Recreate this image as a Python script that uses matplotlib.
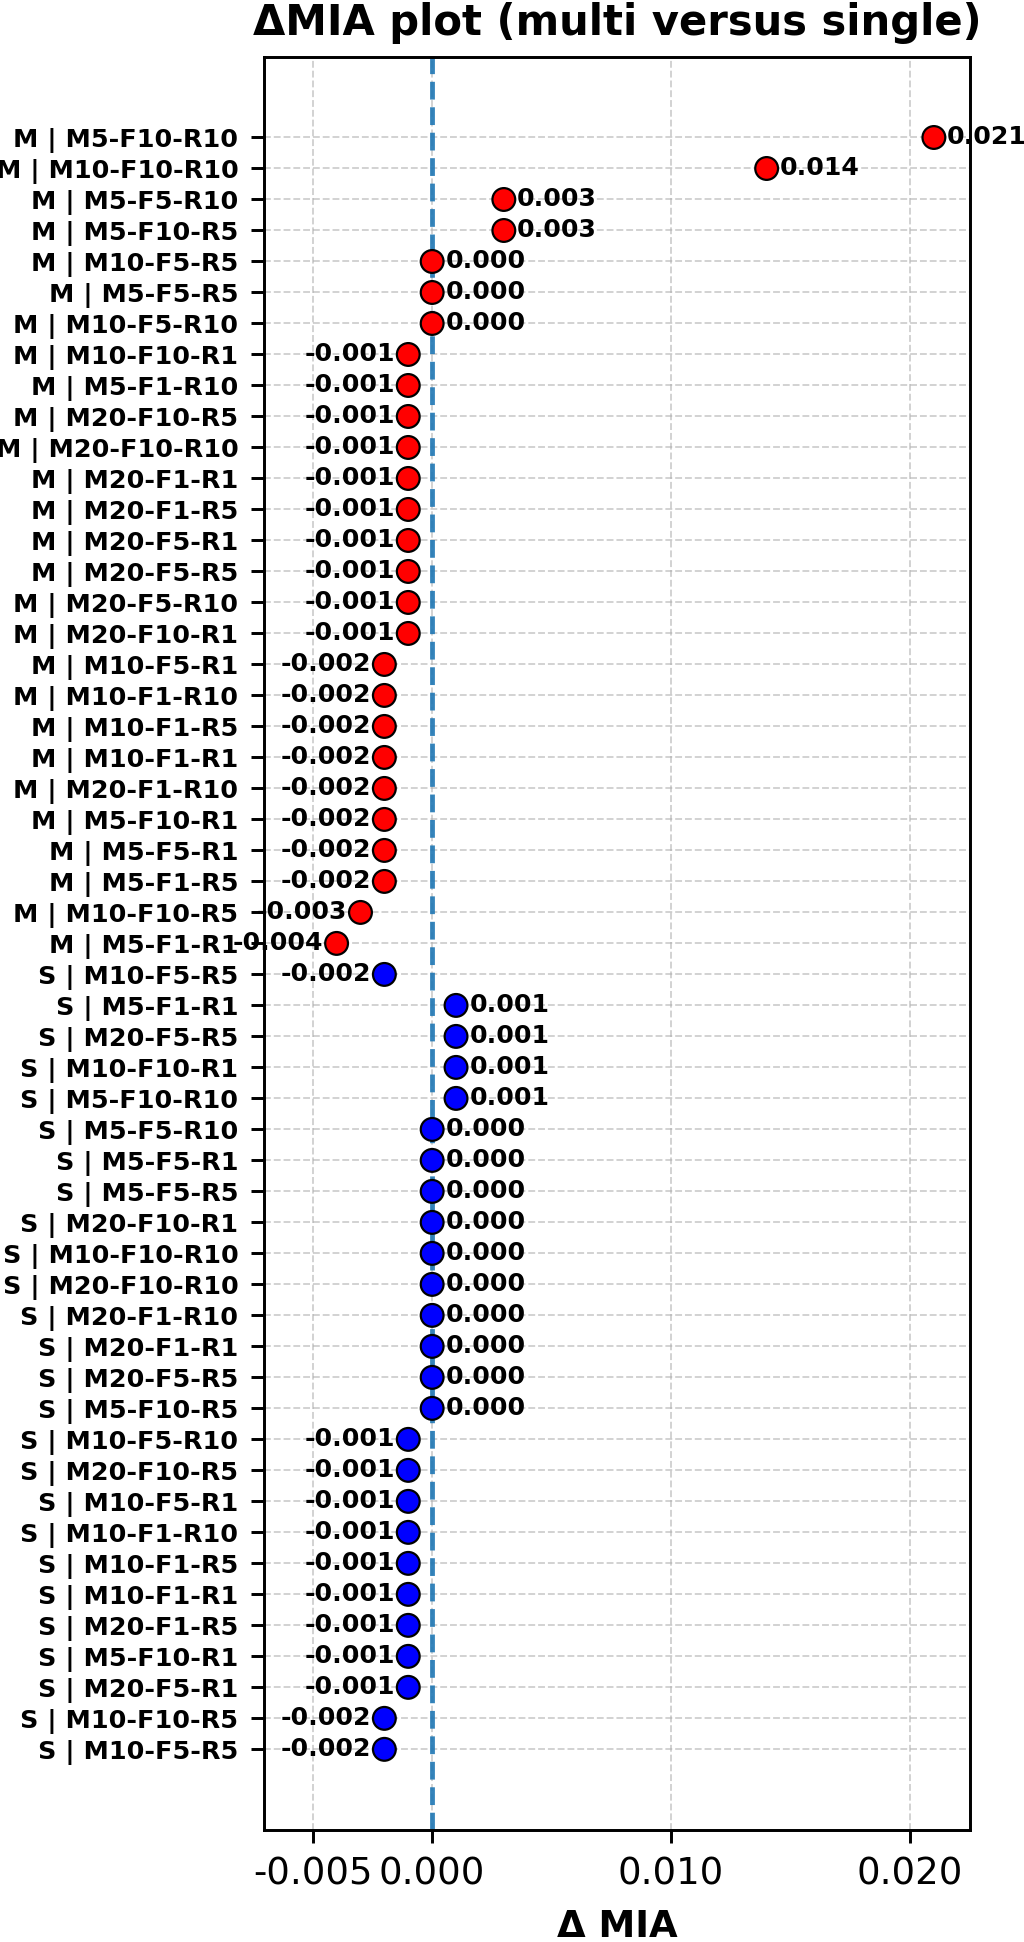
import matplotlib
matplotlib.use("Agg")
import matplotlib.pyplot as plt

plt.rcParams['axes.unicode_minus'] = False
plt.rcParams['font.family'] = ['DejaVu Sans']

labels = [
    "M | M5-F10-R10", "M | M10-F10-R10", "M | M5-F5-R10", "M | M5-F10-R5",
    "M | M10-F5-R5", "M | M5-F5-R5", "M | M10-F5-R10", "M | M10-F10-R1",
    "M | M5-F1-R10", "M | M20-F10-R5", "M | M20-F10-R10", "M | M20-F1-R1",
    "M | M20-F1-R5", "M | M20-F5-R1", "M | M20-F5-R5", "M | M20-F5-R10",
    "M | M20-F10-R1", "M | M10-F5-R1", "M | M10-F1-R10", "M | M10-F1-R5",
    "M | M10-F1-R1", "M | M20-F1-R10", "M | M5-F10-R1", "M | M5-F5-R1",
    "M | M5-F1-R5", "M | M10-F10-R5", "M | M5-F1-R1",
    "S | M10-F5-R5", "S | M5-F1-R1", "S | M20-F5-R5", "S | M10-F10-R1",
    "S | M5-F10-R10", "S | M5-F5-R10", "S | M5-F5-R1", "S | M5-F5-R5",
    "S | M20-F10-R1", "S | M10-F10-R10", "S | M20-F10-R10", "S | M20-F1-R10",
    "S | M20-F1-R1", "S | M20-F5-R5", "S | M5-F10-R5", "S | M10-F5-R10",
    "S | M20-F10-R5", "S | M10-F5-R1", "S | M10-F1-R10", "S | M10-F1-R5",
    "S | M10-F1-R1", "S | M20-F1-R5", "S | M5-F10-R1", "S | M20-F5-R1",
    "S | M10-F10-R5", "S | M10-F5-R5",
]

values = [
    0.021, 0.014, 0.003, 0.003,
    0.000, 0.000, 0.000, -0.001,
    -0.001, -0.001, -0.001, -0.001,
    -0.001, -0.001, -0.001, -0.001,
    -0.001, -0.002, -0.002, -0.002,
    -0.002, -0.002, -0.002, -0.002,
    -0.002, -0.003, -0.004,
    -0.002, 0.001, 0.001, 0.001,
    0.001, 0.000, 0.000, 0.000,
    0.000, 0.000, 0.000, 0.000,
    0.000, 0.000, 0.000, -0.001,
    -0.001, -0.001, -0.001, -0.001,
    -0.001, -0.001, -0.001, -0.001,
    -0.002, -0.002,
]

groups = [lab.split(" | ")[0] for lab in labels]
group_colors = {"M": "#ff0000", "S": "#0000ff"}

xticks = [-0.005, 0.0, 0.010, 0.020]
xticklabels = ["-0.005", "0.000", "0.010", "0.020"]

DPI = 266
fig = plt.figure(figsize=(1024 / DPI, 1942 / DPI), dpi=DPI)
ax = fig.add_axes([0.258, 0.0577, 0.689, 0.913])

ypos = list(range(len(labels)))
colors = [group_colors[g] for g in groups]

ax.set_axisbelow(True)
ax.grid(True, linestyle='--', color='#b0b0b0', alpha=0.6, linewidth=0.5)
ax.axvline(0, color='#1f77b4', linestyle='--', linewidth=1.3, alpha=0.9, zorder=2)
ax.scatter(values, ypos, c=colors, s=38, edgecolors='black', linewidths=0.6, zorder=3)

for y, v in zip(ypos, values):
    if v >= 0:
        ax.annotate(f"{v:.3f}", (v, y), xytext=(3.6, 0), textcoords='offset points',
                    ha='left', va='center', fontsize=6.8, fontweight='bold', zorder=4)
    else:
        ax.annotate(f"{v:.3f}", (v, y), xytext=(-3.6, 0), textcoords='offset points',
                    ha='right', va='center', fontsize=6.8, fontweight='bold', zorder=4)

ax.set_yticks(ypos)
ax.set_yticklabels(labels, fontsize=6.9, fontweight='bold')
ax.set_ylim(len(labels) - 1 + 2.6, -2.6)

ax.set_xticks(xticks)
ax.set_xticklabels(xticklabels, fontsize=10)
ax.set_xlim(-0.00703, 0.0225)

ax.set_xlabel("Δ MIA", fontsize=10, fontweight='bold')
ax.set_title("ΔMIA plot (multi versus single)", fontsize=11.3, fontweight='bold')

fig.savefig("out.png", dpi=DPI)
